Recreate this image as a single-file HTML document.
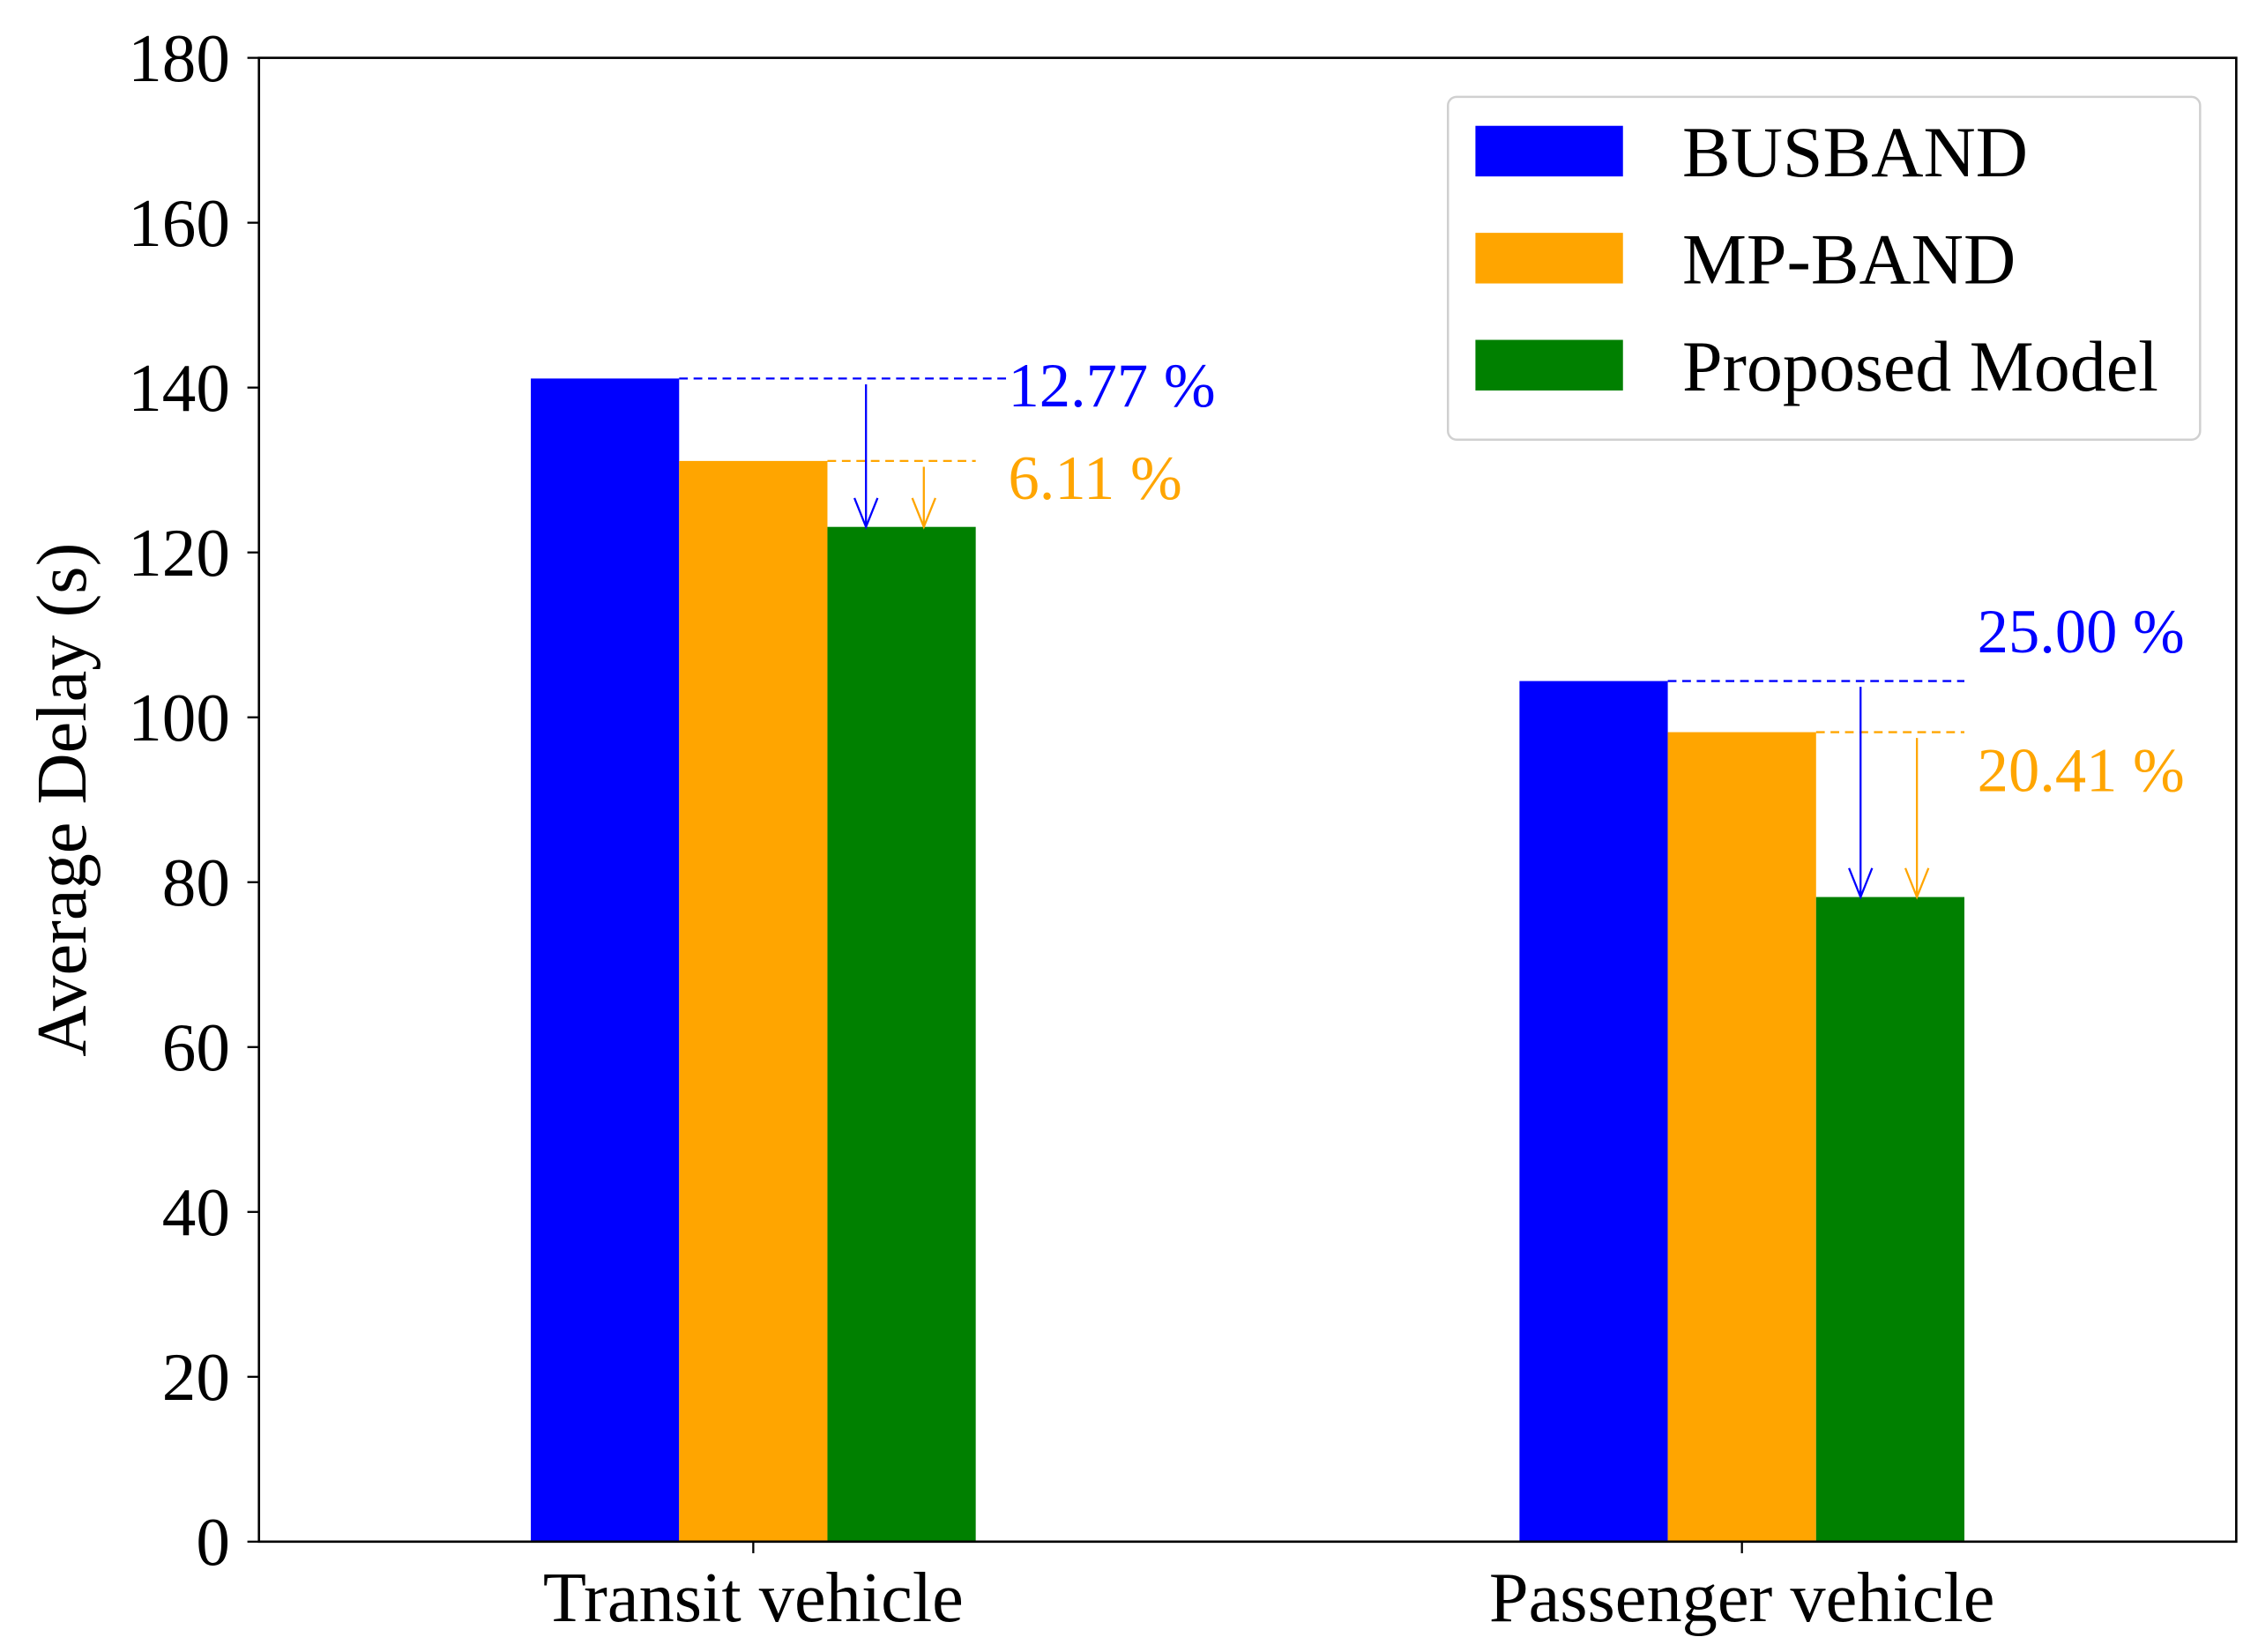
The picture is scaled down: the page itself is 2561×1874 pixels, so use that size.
<!DOCTYPE html>
<html><head><meta charset="utf-8"><style>
html,body{margin:0;padding:0;background:#fff;}
svg{display:block;font-family:"Liberation Serif","Times New Roman",serif;}
</style></head><body>
<svg id="chart" width="2561" height="1874" viewBox="0 0 1561 1142.3" xmlns="http://www.w3.org/2000/svg"></svg>
<script>
const categories = ["Transit vehicle", "Passenger vehicle"];
const seriesNames = ["BUSBAND", "MP-BAND", "Proposed Model"];
const busband = [141.1, 104.4];
const mpband = [131.1, 98.2];
const proposed = [123.1, 78.2];
const yTicks = [0, 20, 40, 60, 80, 100, 120, 140, 160, 180];
const improveVsBus = ["12.77 %", "25.00 %"];
const improveVsMp = ["6.11 %", "20.41 %"];

const NS = "http://www.w3.org/2000/svg";
const svg = document.getElementById('chart');
const L = 179, R = 1546, T = 40, B = 1066;
const xmin = -0.5, xmax = 1.5, ymax = 180;
const barW = 0.15;
const colors = ["#0000ff", "#ffa500", "#008000"];
const annoColors = ["#0000ff", "#ffa500"];
const arrowOffBus = [0.114, 0.12];
const arrowOffMp = [0.1725, 0.177];
function xs(v){ return L + (v - xmin) / (xmax - xmin) * (R - L); }
function ys(v){ return B - v / ymax * (B - T); }
function mk(tag, attrs, parent){
  const e = document.createElementNS(NS, tag);
  for (const k in attrs) e.setAttribute(k, attrs[k]);
  (parent || svg).appendChild(e);
  return e;
}
const series = [busband, mpband, proposed];

series.forEach((vals, s) => {
  vals.forEach((v, i) => {
    const x0 = xs(i + (s - 1) * barW - barW / 2);
    const x1 = xs(i + (s - 1) * barW + barW / 2);
    const r = mk('rect', {x: x0, y: ys(v), width: x1 - x0, height: ys(0) - ys(v), fill: colors[s]});
    
    
  });
});

categories.forEach((c, i) => {
  const busR = xs(i - barW / 2);
  const mpR = xs(i + barW / 2);
  const propR = xs(i + 1.5 * barW);
  const endBus = i === 0 ? xs(i + 1.72 * barW) : propR;
  const yb = ys(busband[i]), ym = ys(mpband[i]), yp = ys(proposed[i]);
  let l = mk('line', {x1: busR, y1: yb, x2: endBus, y2: yb, stroke: annoColors[0], 'stroke-width': 1.4, 'stroke-dasharray': '6,4'});
  
  
  l = mk('line', {x1: mpR, y1: ym, x2: propR, y2: ym, stroke: annoColors[1], 'stroke-width': 1.4, 'stroke-dasharray': '6,4'});
  
  
  const ax1 = xs(i + arrowOffBus[i]);
  const ax2 = xs(i + arrowOffMp[i]);
  [[ax1, yb, 0], [ax2, ym, 1]].forEach(([ax, y0, k]) => {
    const g = mk('g', {stroke: annoColors[k], 'stroke-width': 1.4, fill: 'none'});
    
    
    mk('line', {x1: ax, y1: y0 + 4, x2: ax, y2: yp}, g);
    mk('polyline', {points: (ax - 8) + ',' + (yp - 20) + ' ' + ax + ',' + yp + ' ' + (ax + 8) + ',' + (yp - 20)}, g);
  });
  const tx = i === 0 ? 697 : 1367;
  const t1y = i === 0 ? 281 : 451;
  const t2y = i === 0 ? 345 : 547;
  let t = mk('text', {x: tx, y: t1y, fill: annoColors[0], 'font-size': 43});
  t.textContent = improveVsBus[i];
  
  
  t = mk('text', {x: tx, y: t2y, fill: annoColors[1], 'font-size': 43});
  t.textContent = improveVsMp[i];
  
  
});

const frame = mk('rect', {x: L, y: T, width: R - L, height: B - T, fill: 'none', stroke: '#000', 'stroke-width': 1.6});



yTicks.forEach(v => {
  const y = ys(v);
  const tk = mk('line', {x1: L - 8, y1: y, x2: L, y2: y, stroke: '#000', 'stroke-width': 1.4});
  
  
  const t = mk('text', {x: L - 20, y: y + 16, 'text-anchor': 'end', 'font-size': 47});
  t.textContent = v;
  
  
});

categories.forEach((c, i) => {
  const x = xs(i);
  const tk = mk('line', {x1: x, y1: B, x2: x, y2: B + 8, stroke: '#000', 'stroke-width': 1.4});
  
  
  const t = mk('text', {x: x, y: 1121, 'text-anchor': 'middle', 'font-size': 49});
  t.textContent = c;
  
  
});

const yt = mk('text', {x: 0, y: 0, 'text-anchor': 'middle', 'font-size': 49, transform: 'translate(59,553) rotate(-90)'});
yt.textContent = 'Average Delay (s)';



const lg = mk('g', {});


mk('rect', {x: 1001, y: 67, width: 520, height: 237, rx: 6, fill: '#fff', stroke: '#d0d0d0', 'stroke-width': 1.5}, lg);
seriesNames.forEach((n, s) => {
  const cy = 105 + s * 74;
  const e = mk('g', {}, lg);
  
  
  mk('rect', {x: 1020, y: cy - 18, width: 102, height: 35, fill: colors[s]}, e);
  const t = mk('text', {x: 1163, y: cy + 17, 'font-size': 50}, e);
  t.textContent = n;
});
</script>
</body></html>
